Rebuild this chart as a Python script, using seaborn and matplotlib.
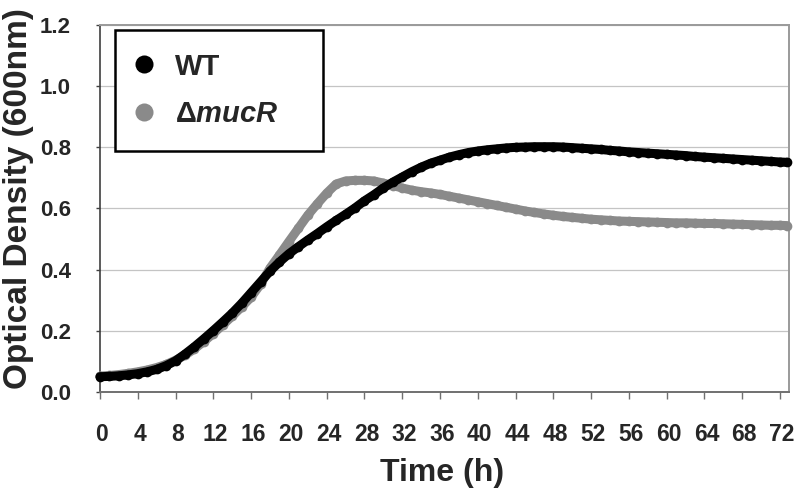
import matplotlib
matplotlib.use("Agg")
import matplotlib.pyplot as plt
import matplotlib.transforms as mtransforms
import seaborn as sns
import pandas as pd
from matplotlib.lines import Line2D
from matplotlib.patches import Rectangle

# ---------------- data ----------------
time_h = list(range(0, 73)) + [72.75]

wt_od = [
    0.050, 0.051, 0.053, 0.056, 0.060, 0.066, 0.074, 0.086, 0.102, 0.124,
    0.148, 0.174, 0.201, 0.229, 0.258, 0.290, 0.325, 0.360, 0.395, 0.425,
    0.452, 0.475, 0.497, 0.518, 0.540, 0.561, 0.581, 0.602, 0.625, 0.645,
    0.667, 0.686, 0.703, 0.720, 0.735, 0.748, 0.758, 0.768, 0.776, 0.783,
    0.788, 0.792, 0.795, 0.798, 0.800, 0.801, 0.802, 0.802, 0.802, 0.801,
    0.799, 0.797, 0.795, 0.793, 0.790, 0.788, 0.785, 0.783, 0.781, 0.779,
    0.777, 0.775, 0.773, 0.770, 0.768, 0.766, 0.764, 0.762, 0.760, 0.758,
    0.756, 0.754, 0.752, 0.751,
]

mucr_od = [
    0.052, 0.054, 0.057, 0.061, 0.066, 0.072, 0.080, 0.090, 0.104, 0.120,
    0.141, 0.165, 0.191, 0.219, 0.248, 0.278, 0.310, 0.352, 0.405, 0.448,
    0.492, 0.535, 0.578, 0.615, 0.650, 0.680, 0.690, 0.692, 0.692, 0.690,
    0.683, 0.675, 0.667, 0.660, 0.655, 0.651, 0.646, 0.640, 0.634, 0.628,
    0.622, 0.616, 0.610, 0.604, 0.598, 0.592, 0.587, 0.582, 0.578, 0.574,
    0.571, 0.568, 0.565, 0.563, 0.561, 0.559, 0.558, 0.557, 0.556, 0.555,
    0.554, 0.553, 0.553, 0.552, 0.551, 0.551, 0.550, 0.549, 0.548, 0.547,
    0.546, 0.545, 0.545, 0.544,
]

x_ticks = list(range(0, 73, 4))
y_ticks = [0.0, 0.2, 0.4, 0.6, 0.8, 1.0, 1.2]
y_tick_labels = ["0.0", "0.2", "0.4", "0.6", "0.8", "1.0", "1.2"]
series_labels = ["WT", r"$\Delta\mathit{mucR}$"]
x_label = "Time (h)"
y_label = "Optical Density (600nm)"

# ---------------- style ----------------
sns.set_style("white")
plt.rcParams["font.family"] = ["Liberation Sans", "DejaVu Sans"]
plt.rcParams["font.weight"] = "bold"
plt.rcParams["mathtext.fontset"] = "custom"
plt.rcParams["mathtext.rm"] = "Liberation Sans"
plt.rcParams["mathtext.it"] = "Liberation Sans:italic:bold"

wt_color = "#000000"
mucr_color = "#8a8a8a"

df = pd.DataFrame({
    "Time": time_h * 2,
    "OD": wt_od + mucr_od,
    "Strain": ["WT"] * len(time_h) + ["mucR"] * len(time_h),
})

fig = plt.figure(figsize=(8, 4.93), dpi=100)
ax = fig.add_axes([0.125, 0.2049, 0.86125, 0.7444])

# grey first, black on top
sns.lineplot(data=df[df.Strain == "mucR"], x="Time", y="OD", color=mucr_color,
             lw=6.5, marker="o", markersize=7, markeredgewidth=0,
             solid_capstyle="round", ax=ax, zorder=3, clip_on=False)
sns.lineplot(data=df[df.Strain == "WT"], x="Time", y="OD", color=wt_color,
             lw=6.5, marker="o", markersize=7, markeredgewidth=0,
             solid_capstyle="round", ax=ax, zorder=4, clip_on=False)

ax.set_xlim(0, 72.95)
ax.set_ylim(0, 1.2)
ax.set_xticks(x_ticks)
ax.set_yticks(y_ticks)
ax.set_yticklabels(y_tick_labels)

ax.yaxis.grid(True, color="#c4c4c4", lw=0.9)
ax.xaxis.grid(False)
ax.set_axisbelow(True)

for side in ["top", "right"]:
    ax.spines[side].set_color("#9a9a9a")
    ax.spines[side].set_linewidth(1.4)
ax.spines["left"].set_color("#404040")
ax.spines["left"].set_linewidth(1.2)
ax.spines["bottom"].set_color("#707070")
ax.spines["bottom"].set_linewidth(1.4)

ax.tick_params(axis="x", direction="out", length=5, width=1.0, color="#707070",
               pad=17, labelsize=16.5, bottom=True)
ax.tick_params(axis="y", direction="out", length=3, width=1.0, color="#404040",
               pad=18, labelsize=16, left=True)
shift = mtransforms.ScaledTranslation(2 / 100, 0, fig.dpi_scale_trans)
for lab in ax.get_xticklabels():
    lab.set_fontweight("bold")
    lab.set_transform(lab.get_transform() + shift)
for lab in ax.get_yticklabels():
    lab.set_fontweight("bold")

ax.set_xlabel(x_label, fontsize=23, fontweight="bold")
ax.set_ylabel(y_label, fontsize=24, fontweight="bold")
ax.xaxis.set_label_coords(0.497, -0.180)
ax.yaxis.set_label_coords(-0.0958, 0.526)

# legend
handles = [
    Line2D([], [], ls="none", marker="o", markersize=13, color=wt_color, markeredgewidth=0),
    Line2D([], [], ls="none", marker="o", markersize=13, color=mucr_color, markeredgewidth=0),
]
leg = ax.legend(handles, series_labels, loc="upper left",
                bbox_to_anchor=(0.047, 0.9248), frameon=False,
                prop={"size": 21, "weight": "bold"}, handlelength=0.8,
                handletextpad=0.67, labelspacing=0.68, borderpad=0,
                borderaxespad=0)
ax.add_patch(Rectangle((0.0218, 0.6567), 0.3019, 0.3297, transform=ax.transAxes,
                       fill=True, facecolor="white", edgecolor="black", lw=1.8,
                       zorder=5))
leg.set_zorder(6)

fig.savefig("out.png", dpi=100)
